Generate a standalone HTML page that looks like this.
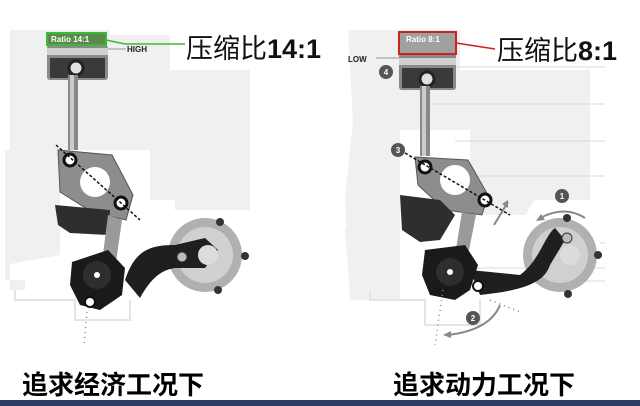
<!DOCTYPE html>
<html><head><meta charset="utf-8"><style>
html,body{margin:0;padding:0;background:#fff;}
svg{display:block;}
</style></head><body>
<svg width="640" height="406" viewBox="0 0 640 406" xmlns="http://www.w3.org/2000/svg">
<rect width="640" height="406" fill="#fff"/>
<g fill="#f0f0f0">
  <path d="M10 30 L110 30 L110 35 L170 35 L170 70 L250 70 L250 210 L175 210 L175 200 L150 200 L150 150 L20 150 L5 160 L5 280 L25 280 L25 290 L10 290 Z"/>
  <path d="M5 150 L60 150 L60 255 L5 265 Z"/>
  <path d="M348 30 L460 30 L460 70 L590 70 L590 200 L535 200 L525 215 L470 215 L470 130 L380 130 L360 180 L345 230 L350 290 L370 300 L360 250 Z"/>
  <path d="M355 100 L400 100 L400 300 L350 300 L345 200 Z"/>
</g>
<g fill="none" stroke="#e4e4e4" stroke-width="2">
  <path d="M15 290 L15 300 L75 300 L75 320 L130 320 L130 300"/>
  <path d="M370 290 L370 300 L425 300 L425 325 L480 325 L480 300"/>
</g>
<g stroke="#d9d9d9" stroke-width="1">
  <line x1="456" y1="67" x2="605" y2="67"/>
  <line x1="430" y1="104" x2="605" y2="104"/>
  <line x1="455" y1="141" x2="605" y2="141"/>
  <line x1="455" y1="176" x2="605" y2="176"/>
  <line x1="600" y1="243" x2="605" y2="243"/>
  <line x1="460" y1="268" x2="605" y2="268"/>
  <line x1="500" y1="281" x2="605" y2="281"/>
</g>

<g>
  <rect x="47" y="45" width="61" height="35" rx="3" fill="#8a8a8a"/>
  <rect x="47" y="48" width="61" height="7" fill="#d0d0d0"/>
  <rect x="50" y="58" width="55" height="20" fill="#3a3a3a"/>
  <circle cx="76" cy="68" r="7" fill="#e0e0e0" stroke="#222" stroke-width="3"/>
  <rect x="68" y="75" width="10" height="75" fill="#888"/>
  <rect x="70" y="75" width="4" height="75" fill="#ccc"/>
  <path d="M58 150 L112 155 L133 195 L126 220 L92 212 L60 192 Z" fill="#8d8d8d" stroke="#555"/>
  <circle cx="95" cy="182" r="15" fill="#fff"/>
  <path d="M55 205 L110 210 L108 235 L70 233 L58 225 Z" fill="#2e2e2e"/>
  <path d="M108 215 L122 220 L116 262 L102 262 Z" fill="#9a9a9a"/>
  <circle cx="205" cy="255" r="37" fill="#b0b0b0"/>
  <circle cx="205" cy="255" r="28" fill="#d0d0d0"/>
  <circle cx="220" cy="222" r="4" fill="#333"/><circle cx="245" cy="256" r="4" fill="#333"/><circle cx="218" cy="290" r="4" fill="#333"/><circle cx="170" cy="265" r="4" fill="#333"/>
  <path d="M125 280 C135 250 150 245 175 245 L205 238 L218 250 L205 268 L175 268 C160 270 150 280 140 298 Z" fill="#1f1f1f"/>
  <circle cx="208" cy="255" r="10" fill="#dcdcdc"/>
  <circle cx="182" cy="257" r="5" fill="#bbb" stroke="#333"/>
  <path d="M72 262 L108 250 L125 268 L122 295 L100 310 L80 305 L70 285 Z" fill="#1a1a1a"/>
  <circle cx="97" cy="275" r="14" fill="#2e2e2e"/>
  <circle cx="97" cy="275" r="3" fill="#fff"/>
  <circle cx="90" cy="302" r="5" fill="#fff" stroke="#111" stroke-width="2"/>
  <circle cx="70" cy="160" r="6" fill="#fff" stroke="#111" stroke-width="3"/>
  <circle cx="121" cy="203" r="6" fill="#fff" stroke="#111" stroke-width="3"/>
  <line x1="56" y1="145" x2="140" y2="220" stroke="#111" stroke-width="1.5" stroke-dasharray="3,2"/>
  <line x1="87" y1="312" x2="84" y2="345" stroke="#888" stroke-width="1.5" stroke-dasharray="1,4"/>
  <rect x="47" y="33" width="59" height="12" fill="#5a8a4a" stroke="#3cb83c" stroke-width="2"/>
  <text x="51" y="42" font-family="Liberation Sans,sans-serif" font-size="8" font-weight="bold" fill="#fff">Ratio 14:1</text>
  <line x1="106" y1="40" x2="125" y2="44" stroke="#3cb83c" stroke-width="1.5"/>
  <line x1="125" y1="44" x2="185" y2="44" stroke="#3cb83c" stroke-width="1.5"/>
  <line x1="108" y1="49" x2="126" y2="49" stroke="#999"/>
  <text x="127" y="52" font-family="Liberation Sans,sans-serif" font-size="8" font-weight="bold" fill="#222">HIGH</text>
  <text x="186" y="58" font-family="Liberation Sans,'Noto Sans CJK SC',sans-serif" font-size="27" fill="#111">压缩比<tspan font-weight="bold">14:1</tspan></text>
</g>

<g>
  <rect x="399" y="50" width="57" height="40" rx="3" fill="#8a8a8a"/>
  <rect x="399" y="58" width="57" height="7" fill="#d0d0d0"/>
  <rect x="402" y="68" width="51" height="20" fill="#3a3a3a"/>
  <circle cx="427" cy="79" r="7" fill="#e0e0e0" stroke="#222" stroke-width="3"/>
  <rect x="420" y="86" width="10" height="70" fill="#888"/>
  <rect x="422" y="86" width="4" height="70" fill="#ccc"/>
  <circle cx="386" cy="72" r="7" fill="#555"/><text x="386" y="75" text-anchor="middle" font-family="Liberation Sans,sans-serif" font-size="8" font-weight="bold" fill="#fff">4</text>
  <path d="M415 157 L468 160 L488 195 L482 215 L445 210 L418 185 Z" fill="#8d8d8d" stroke="#555"/>
  <circle cx="455" cy="180" r="15" fill="#fff"/>
  <path d="M400 195 L440 200 L455 215 L440 240 L420 242 L402 230 Z" fill="#2e2e2e"/>
  <path d="M462 212 L476 215 L468 255 L455 255 Z" fill="#9a9a9a"/>
  <circle cx="560" cy="255" r="37" fill="#b0b0b0"/>
  <circle cx="560" cy="255" r="28" fill="#d0d0d0"/>
  <circle cx="567" cy="218" r="4" fill="#333"/><circle cx="598" cy="255" r="4" fill="#333"/><circle cx="568" cy="294" r="4" fill="#333"/>
  <path d="M470 270 L520 275 C540 260 545 235 555 228 L565 240 L550 265 C545 280 530 290 480 295 Z" fill="#1f1f1f"/>
  <circle cx="570" cy="255" r="10" fill="#dcdcdc"/>
  <circle cx="567" cy="238" r="5" fill="#bbb" stroke="#333"/>
  <path d="M425 250 L465 245 L478 265 L470 290 L455 300 L430 295 L422 275 Z" fill="#1a1a1a"/>
  <circle cx="450" cy="272" r="14" fill="#2e2e2e"/>
  <circle cx="450" cy="272" r="3" fill="#fff"/>
  <circle cx="478" cy="286" r="5" fill="#fff" stroke="#111" stroke-width="2"/>
  <circle cx="425" cy="167" r="6" fill="#fff" stroke="#111" stroke-width="3"/>
  <circle cx="485" cy="200" r="6" fill="#fff" stroke="#111" stroke-width="3"/>
  <line x1="405" y1="153" x2="510" y2="215" stroke="#111" stroke-width="1.5" stroke-dasharray="3,2"/>
  <circle cx="398" cy="150" r="7" fill="#555"/><text x="398" y="153" text-anchor="middle" font-family="Liberation Sans,sans-serif" font-size="8" font-weight="bold" fill="#fff">3</text>
  <line x1="494" y1="225" x2="508" y2="202" stroke="#888" stroke-width="2"/>
  <path d="M508 200 l-6 4 l6 4 z" fill="#888"/>
  <circle cx="562" cy="196" r="7" fill="#555"/><text x="562" y="199" text-anchor="middle" font-family="Liberation Sans,sans-serif" font-size="8" font-weight="bold" fill="#fff">1</text>
  <path d="M540 218 Q565 205 585 218" fill="none" stroke="#888" stroke-width="2"/>
  <path d="M536 221 l9 -1 l-4 -6 z" fill="#888"/>
  <circle cx="473" cy="318" r="7" fill="#555"/><text x="473" y="321" text-anchor="middle" font-family="Liberation Sans,sans-serif" font-size="8" font-weight="bold" fill="#fff">2</text>
  <path d="M500 305 Q490 330 448 335" fill="none" stroke="#888" stroke-width="2"/>
  <path d="M443 335 l8 -4 l0 7 z" fill="#888"/>
  <line x1="443" y1="290" x2="435" y2="345" stroke="#888" stroke-width="1.5" stroke-dasharray="1,4"/>
  <line x1="490" y1="300" x2="520" y2="312" stroke="#888" stroke-width="1.5" stroke-dasharray="1,4"/>
  <rect x="399" y="32" width="57" height="22" fill="#a0a0a0" stroke="#d02020" stroke-width="2"/>
  <text x="406" y="42" font-family="Liberation Sans,sans-serif" font-size="8" font-weight="bold" fill="#fff">Ratio 8:1</text>
  <line x1="456" y1="43" x2="495" y2="49" stroke="#d02020" stroke-width="1.5"/>
  <line x1="376" y1="58" x2="399" y2="58" stroke="#999"/>
  <text x="348" y="62" font-family="Liberation Sans,sans-serif" font-size="8" font-weight="bold" fill="#222">LOW</text>
  <text x="497" y="60" font-family="Liberation Sans,'Noto Sans CJK SC',sans-serif" font-size="27" fill="#111">压缩比<tspan font-weight="bold">8:1</tspan></text>
</g>

<text x="22" y="394" font-family="Liberation Sans,'Noto Sans CJK SC',sans-serif" font-size="26" font-weight="bold" fill="#000">追求经济工况下</text>
<text x="393" y="394" font-family="Liberation Sans,'Noto Sans CJK SC',sans-serif" font-size="26" font-weight="bold" fill="#000">追求动力工况下</text>
<rect x="0" y="400" width="640" height="6" fill="#2b3c62"/>
</svg>
</body></html>
